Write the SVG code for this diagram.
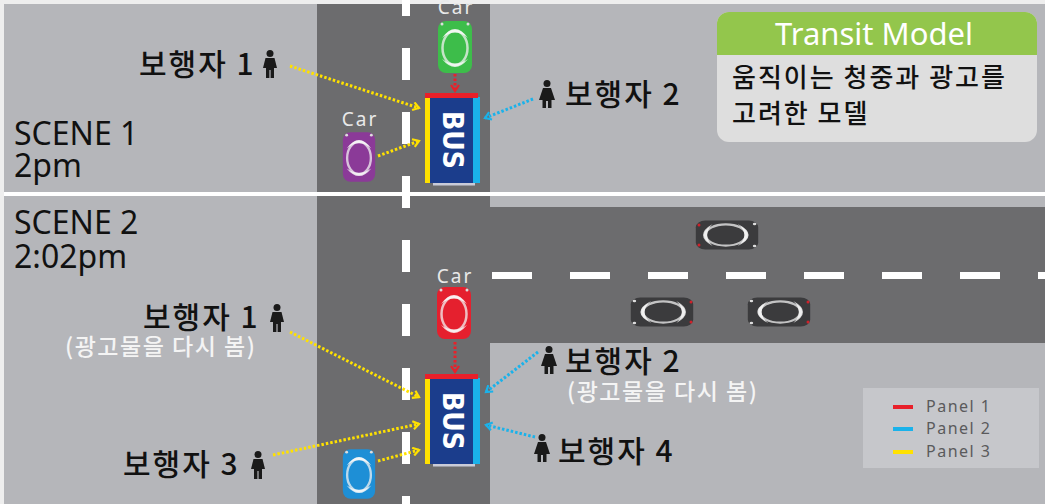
<svg xmlns="http://www.w3.org/2000/svg" xmlns:xlink="http://www.w3.org/1999/xlink" width="1045" height="504" viewBox="0 0 1045 504">
  <style>
    .walk { fill: #b5b6ba; }
    .road { fill: #6c6c6e; }
    .lane { fill: #ffffff; }
    .scene { font-family: "Noto Sans", "Liberation Sans", sans-serif; font-size: 32px; fill: #111; }
    .ped { font-family: "Noto Sans CJK KR", "Noto Sans", sans-serif; font-size: 30px; font-weight: 500; letter-spacing: 2px; fill: #111; }
    .note { font-family: "Noto Sans CJK KR", "Noto Sans", sans-serif; font-size: 23px; font-weight: 500; letter-spacing: 1.5px; fill: #f4f4f4; }
    .card { font-family: "Noto Sans CJK KR", "Noto Sans", sans-serif; font-size: 26px; font-weight: 500; letter-spacing: 2px; fill: #111; }
    .carlbl { font-family: "Noto Sans", "Liberation Sans", sans-serif; font-size: 19px; fill: #e9e9e9; letter-spacing: 2px; text-anchor: middle; }
    .bus { font-family: "DejaVu Sans", "Liberation Sans", sans-serif; font-weight: bold; font-size: 29px; fill: #fff; }
    .ylw { stroke: #ffe100; }
    .cyn { stroke: #1ab2ea; }
    .red { stroke: #e8202a; }
    .dot { fill: none; stroke-width: 3; stroke-dasharray: 2.5 2; }
    .legend { font-family: "Noto Sans", "Liberation Sans", sans-serif; font-size: 16px; fill: #5a5a5c; letter-spacing: 1.5px; }
  </style>
  <defs>
    <!-- top view of a car, front facing up, centred on 0,0 -->
    <g id="car">
      <rect x="-17" y="-26" width="34" height="52" rx="8"/>
      <ellipse cx="0" cy="1" rx="12.5" ry="17" fill="none" stroke="#f2f2f2" stroke-width="2.5" opacity="0.75"/>
      <path d="M-13 -9 Q0 -27 13 -9 Q0 -20 -13 -9Z" fill="#fafafa" opacity="0.85"/>
      <path d="M-13 12 Q0 28 13 12 Q0 21 -13 12Z" fill="#fafafa" opacity="0.8"/>
      <circle cx="-13" cy="-23" r="1.5" fill="#dddddd"/>
      <circle cx="13" cy="-23" r="1.5" fill="#dddddd"/>
    </g>
    <!-- pedestrian pictograms -->
    <g id="man">
      <circle cx="7" cy="3.5" r="3.5"/>
      <path d="M2.5 8 H11.5 L14 18 H11 V28 H7.6 V20 H6.4 V28 H3 V18 H0 Z"/>
    </g>
    <g id="woman">
      <circle cx="7" cy="3.5" r="3.5"/>
      <path d="M3 8 H11 L15 20 H11.5 V28 H8 V21 H6 V28 H2.5 V20 H-1 Z"/>
    </g>
    <!-- bus with its three advertising panels -->
    <g id="busbody">
      <rect x="8" y="89" width="42" height="3.5" fill="#c9cbd8"/>
      <rect x="5" y="5" width="43" height="85" fill="#1b3d8c"/>
      <rect x="0" y="0" width="5" height="90" fill="#ffe100"/>
      <rect x="48" y="4" width="7" height="86" fill="#1ab2ea"/>
      <rect x="0" y="0" width="53" height="5" fill="#e8202a"/>
      <text class="bus" transform="translate(27.5 47) rotate(90)" text-anchor="middle" dominant-baseline="central" textLength="58" lengthAdjust="spacingAndGlyphs">BUS</text>
    </g>
    <marker id="hy" markerWidth="10" markerHeight="10" refX="7" refY="5" orient="auto" markerUnits="userSpaceOnUse">
      <path d="M1 1 L7 5 L1 9" fill="none" stroke="#ffe100" stroke-width="2.2"/>
    </marker>
    <marker id="hc" markerWidth="10" markerHeight="10" refX="7" refY="5" orient="auto" markerUnits="userSpaceOnUse">
      <path d="M1 1 L7 5 L1 9" fill="none" stroke="#1ab2ea" stroke-width="2.2"/>
    </marker>
    <marker id="hr" markerWidth="10" markerHeight="10" refX="7" refY="5" orient="auto" markerUnits="userSpaceOnUse">
      <path d="M1 1 L7 5 L1 9" fill="none" stroke="#e8202a" stroke-width="2.2"/>
    </marker>
  </defs>

  <!-- ground -->
  <rect x="0" y="0" width="1045" height="504" class="walk"/>
  <rect x="317" y="0" width="173" height="504" class="road"/>
  <rect x="490" y="207" width="555" height="136" class="road"/>
  <!-- outer frame -->
  <rect x="0" y="0" width="1045" height="4" fill="#eeeeee"/>
  <rect x="0" y="0" width="4" height="504" fill="#eeeeee"/>

  <!-- lane markings -->
  <g id="lanes" class="lane">
    <rect x="402" y="0" width="8" height="16"/>
    <rect x="402" y="48" width="8" height="32"/>
    <rect x="402" y="112" width="8" height="32"/>
    <rect x="402" y="176" width="8" height="32"/>
    <rect x="402" y="240" width="8" height="32"/>
    <rect x="402" y="304" width="8" height="32"/>
    <rect x="402" y="368" width="8" height="32"/>
    <rect x="402" y="432" width="8" height="32"/>
    <rect x="402" y="496" width="8" height="8"/>
    <rect x="492" y="272" width="40" height="7"/>
    <rect x="570" y="272" width="40" height="7"/>
    <rect x="648" y="272" width="40" height="7"/>
    <rect x="726" y="272" width="40" height="7"/>
    <rect x="804" y="272" width="40" height="7"/>
    <rect x="882" y="272" width="40" height="7"/>
    <rect x="960" y="272" width="40" height="7"/>
    <rect x="1038" y="272" width="7" height="7"/>
  </g>

  <!-- scene divider -->
  <rect x="4" y="192" width="1041" height="4" fill="#ffffff"/>

  <!-- scene titles -->
  <g id="titles" class="scene">
    <text x="14" y="145">SCENE 1</text>
    <text x="14" y="177">2pm</text>
    <text x="14" y="234">SCENE 2</text>
    <text x="14" y="268">2:02pm</text>
  </g>

  <!-- connectors -->
  <g id="connectors">
    <path class="dot ylw" d="M290 66 L419 108" marker-end="url(#hy)"/>
    <path class="dot ylw" d="M378 156 L419 141" marker-end="url(#hy)"/>
    <path class="dot cyn" d="M533 99 L485 118" marker-end="url(#hc)"/>
    <path class="dot red" d="M455 74 L455 91" marker-end="url(#hr)"/>
    <path class="dot ylw" d="M290 332 L419 397" marker-end="url(#hy)"/>
    <path class="dot ylw" d="M273 455 L419 424" marker-end="url(#hy)"/>
    <path class="dot ylw" d="M378 461 L419 450" marker-end="url(#hy)"/>
    <path class="dot cyn" d="M538 352 L486 392" marker-end="url(#hc)"/>
    <path class="dot cyn" d="M535 437 L486 425" marker-end="url(#hc)"/>
    <path class="dot red" d="M455 342 L455 372" marker-end="url(#hr)"/>
  </g>

  <!-- scene 1 vehicles -->
  <g id="car-green">
    <use xlink:href="#car" transform="translate(455 47)" fill="#3dbd4a"/>
    <text class="carlbl" x="456" y="14">Car</text>
  </g>
  <g id="car-purple">
    <use xlink:href="#car" transform="translate(359 157) scale(0.95)" fill="#8b3a98"/>
    <text class="carlbl" x="360" y="126">Car</text>
  </g>
  <g id="bus-1">
    <use xlink:href="#busbody" transform="translate(425 93)"/>
  </g>

  <!-- scene 2 vehicles -->
  <g id="car-red">
    <use xlink:href="#car" transform="translate(454 313)" fill="#e5202e"/>
    <text class="carlbl" x="455" y="283">Car</text>
  </g>
  <g id="car-blue">
    <use xlink:href="#car" transform="translate(359 474) scale(0.95)" fill="#1e8fd6"/>
  </g>
  <g id="bus-2">
    <use xlink:href="#busbody" transform="translate(425 374)"/>
  </g>
  <g id="traffic">
    <use xlink:href="#car" transform="translate(727 235) rotate(90) scale(0.85 1.2)" fill="#3b3b3d"/>
    <circle cx="699" cy="225" r="1.5" fill="#d0202a"/>
    <circle cx="699" cy="245" r="1.5" fill="#d0202a"/>
    <use xlink:href="#car" transform="translate(662 312) rotate(-90) scale(0.85 1.2)" fill="#3b3b3d"/>
    <circle cx="691" cy="302" r="1.5" fill="#d0202a"/>
    <circle cx="691" cy="322" r="1.5" fill="#d0202a"/>
    <use xlink:href="#car" transform="translate(779 312) rotate(-90) scale(0.85 1.2)" fill="#3b3b3d"/>
    <circle cx="808" cy="302" r="1.5" fill="#d0202a"/>
    <circle cx="808" cy="322" r="1.5" fill="#d0202a"/>
  </g>

  <!-- pedestrians -->
  <g id="ped-1a">
    <text class="ped" x="139" y="75">보행자 1</text>
    <use xlink:href="#man" transform="translate(263 50)" fill="#1a1a1a"/>
  </g>
  <g id="ped-2a">
    <use xlink:href="#woman" transform="translate(540 80)" fill="#1a1a1a"/>
    <text class="ped" x="565" y="105">보행자 2</text>
  </g>
  <g id="ped-1b">
    <text class="ped" x="143" y="328">보행자 1</text>
    <use xlink:href="#man" transform="translate(270 304)" fill="#1a1a1a"/>
    <text class="note" x="65" y="355">(광고물을 다시 봄)</text>
  </g>
  <g id="ped-2b">
    <use xlink:href="#woman" transform="translate(542 346)" fill="#1a1a1a"/>
    <text class="ped" x="565" y="372">보행자 2</text>
    <text class="note" x="567" y="400">(광고물을 다시 봄)</text>
  </g>
  <g id="ped-4">
    <use xlink:href="#woman" transform="translate(535 434)" fill="#1a1a1a"/>
    <text class="ped" x="558" y="462">보행자 4</text>
  </g>
  <g id="ped-3">
    <text class="ped" x="123" y="475">보행자 3</text>
    <use xlink:href="#man" transform="translate(251 451)" fill="#1a1a1a"/>
  </g>

  <!-- info card -->
  <g id="transit-model">
    <rect x="717" y="12" width="320" height="130" rx="12" fill="#dedede"/>
    <path d="M717 55 V24 A12 12 0 0 1 729 12 H1025 A12 12 0 0 1 1037 24 V55 Z" fill="#93c64c"/>
    <text x="874" y="45" text-anchor="middle" font-family="Noto Sans, Liberation Sans, sans-serif" font-size="31" fill="#ffffff">Transit Model</text>
    <text class="card" x="732" y="87">움직이는 청중과 광고를</text>
    <text class="card" x="732" y="123">고려한 모델</text>
  </g>

  <!-- panel legend -->
  <g id="legend">
    <rect x="863" y="388" width="176" height="80" fill="#c6c7cb"/>
    <rect x="893" y="405" width="20" height="4" fill="#e8202a"/>
    <rect x="893" y="427" width="20" height="4" fill="#1ab2ea"/>
    <rect x="893" y="450" width="20" height="4" fill="#ffe100"/>
    <text class="legend" x="926" y="412">Panel 1</text>
    <text class="legend" x="926" y="434">Panel 2</text>
    <text class="legend" x="926" y="457">Panel 3</text>
  </g>
</svg>
